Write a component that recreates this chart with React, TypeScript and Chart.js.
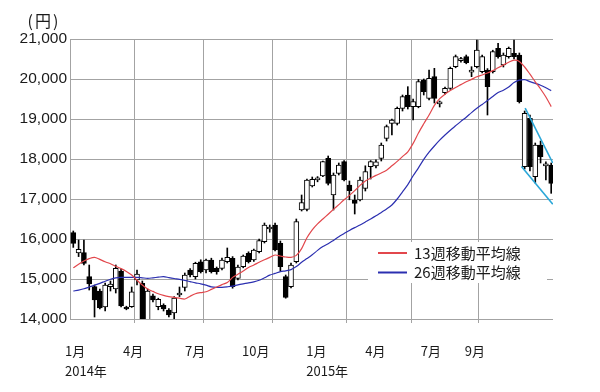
import React, { useEffect, useRef } from "react";
import { Chart, registerables } from "chart.js";

Chart.register(...registerables);

// Weekly candles (index 0 = first week of Jan 2014)
const OPEN = [16158, 15650, 15658, 15058, 14808, 14700, 14300, 14810, 14750, 15200, 14300, 14310, 14980, 14890, 13920, 14580, 14310, 14340, 14220, 14150, 14600, 14790, 15220, 15058, 15430, 15225, 15475, 15267, 15267, 15433, 15517, 15017, 15308, 15642, 15475, 15683, 15933, 16250, 16350, 15892, 15058, 14808, 15433, 16725, 16742, 17325, 17480, 17580, 18017, 17100, 17642, 17933, 17350, 16975, 16975, 17267, 17808, 17830, 18017, 18517, 18892, 18892, 19267, 19600, 19308, 19308, 19975, 19517, 20058, 19380, 19658, 19767, 20308, 20460, 20558, 20170, 20308, 20183, 20225, 20183, 20767, 20350, 20558, 20642, 20600, 17808, 19017, 17558, 18350, 17830, 17850];
const HIGH = [16200, 15975, 15975, 15350, 14850, 14750, 14900, 14950, 15350, 15250, 14320, 14800, 15225, 14950, 14750, 14620, 14520, 14380, 14260, 14560, 14800, 15150, 15260, 15420, 15480, 15500, 15520, 15300, 15520, 15775, 15560, 15350, 15600, 15680, 15750, 16000, 16400, 16350, 16400, 15950, 15100, 15400, 16500, 17100, 17500, 17550, 17560, 17950, 18075, 17650, 17900, 17960, 17450, 17100, 17550, 17830, 17960, 17980, 18400, 18850, 19000, 19300, 19600, 19808, 19500, 19990, 20000, 20225, 20267, 19450, 19800, 20300, 20600, 20540, 20600, 20308, 20975, 20600, 20260, 20720, 20892, 20650, 20800, 20975, 20650, 19200, 19100, 18400, 18450, 17930, 17900];
const LOW = [15790, 15560, 15350, 14725, 14050, 14250, 14200, 14700, 14650, 14300, 14230, 14290, 14850, 13880, 13880, 14430, 14230, 14200, 14050, 13980, 14560, 14700, 15050, 15000, 15150, 15150, 15150, 15120, 15230, 15400, 14770, 14980, 15280, 15400, 15440, 15650, 15900, 16170, 15700, 15200, 14520, 14780, 15400, 16700, 16700, 17300, 17430, 17560, 17350, 16725, 17600, 17450, 16980, 16625, 16950, 17200, 17500, 17780, 17950, 18450, 18600, 18850, 19200, 19250, 18975, 19280, 19600, 19480, 19400, 19300, 19620, 19740, 20280, 20420, 20380, 20058, 20280, 20150, 19100, 20150, 20520, 20300, 20520, 20500, 19400, 17750, 17700, 17400, 17900, 17475, 17142];
const CLOSE = [15892, 15740, 15392, 14875, 14475, 14280, 14850, 14870, 15267, 14330, 14250, 14680, 15120, 13950, 14700, 14480, 14490, 14250, 14100, 14520, 14640, 15100, 15100, 15392, 15183, 15475, 15183, 15183, 15475, 15542, 14808, 15300, 15575, 15433, 15725, 15958, 16350, 16280, 15725, 15308, 14542, 15350, 16433, 16908, 17475, 17492, 17500, 17933, 17392, 17600, 17850, 17475, 17208, 16892, 17475, 17683, 17933, 17930, 18350, 18808, 18975, 19267, 19558, 19308, 19433, 19933, 19683, 20017, 19517, 19400, 19767, 20267, 20558, 20490, 20408, 20200, 20725, 20558, 19808, 20683, 20558, 20600, 20767, 20558, 19433, 19142, 17808, 18350, 18058, 17870, 17392];

// Moving averages, one value per week
const MA13 = [15280, 15370, 15450, 15510, 15540, 15490, 15430, 15380, 15320, 15260, 15190, 15100, 14970, 14850, 14750, 14690, 14630, 14590, 14560, 14540, 14520, 14500, 14570, 14630, 14660, 14680, 14740, 14800, 14860, 14910, 15040, 15120, 15200, 15290, 15350, 15420, 15480, 15540, 15600, 15575, 15550, 15540, 15590, 15760, 16030, 16230, 16380, 16500, 16620, 16740, 16860, 16980, 17090, 17210, 17340, 17450, 17520, 17590, 17650, 17720, 17830, 17940, 18060, 18180, 18390, 18650, 18880, 19100, 19340, 19510, 19620, 19710, 19790, 19860, 19930, 19990, 20055, 20100, 20150, 20210, 20280, 20350, 20420, 20470, 20440, 20300, 20120, 19930, 19750, 19550, 19310];
const MA26 = [14700, 14720, 14755, 14800, 14845, 14890, 14945, 14995, 15030, 15042, 15042, 15042, 15042, 15030, 15017, 15030, 15045, 15058, 15035, 15012, 14990, 14965, 14935, 14905, 14880, 14845, 14805, 14792, 14792, 14805, 14823, 14855, 14880, 14902, 14930, 14970, 15030, 15098, 15140, 15185, 15205, 15235, 15310, 15420, 15510, 15605, 15715, 15810, 15880, 15965, 16055, 16135, 16215, 16285, 16350, 16425, 16500, 16580, 16665, 16750, 16850, 17000, 17180, 17360, 17580, 17780, 17990, 18170, 18325, 18470, 18600, 18720, 18830, 18940, 19045, 19160, 19267, 19365, 19460, 19565, 19660, 19720, 19800, 19910, 19970, 19985, 19935, 19890, 19845, 19780, 19710];

// Hand-drawn downward channel (week index, price)
const TREND_UPPER_X = [85.1, 90.3];
const TREND_UPPER_Y = [19270, 17900];
const TREND_LOWER_X = [84.4, 90.3];
const TREND_LOWER_Y = [17810, 16870];

// Axes
const X_MIN = -0.62;
const X_MAX = 90.34;
const X_GRID_WEEKS = [11.6, 24.6, 37.6, 51.5, 63.6, 76.4];
const X_LABEL_WEEKS = [-1.56, 9.36, 21.04, 31.77, 43.87, 54.98, 65.44, 73.73];
const X_LABELS = [["1月", "2014年"], ["4月"], ["7月"], ["10月"], ["1月", "2015年"], ["4月"], ["7月"], ["9月"]];
const Y_MIN = 14000;
const Y_MAX = 21000;
const Y_STEP = 1000;
const Y_UNIT = "(円)";
const LEGEND_LABELS = ["13週移動平均線", "26週移動平均線"];

const RED = "#e2474c";
const BLUE = "#2b2fb0";
const CYAN = "#2aa7d8";
const GRID = "#a3a3a3";
const INK = "#1a1a1a";

const overlayPlugin = {
  id: "overlay",
  afterDraw(chart: any) {
    const ctx = chart.ctx as CanvasRenderingContext2D;
    ctx.save();
    // unit label
    ctx.fillStyle = INK;
    ctx.font = "16px 'Noto Sans CJK JP'";
    ctx.textAlign = "center";
    ctx.textBaseline = "middle";
    (ctx as any).letterSpacing = "2px";
    ctx.fillText(Y_UNIT, 44, 21);
    (ctx as any).letterSpacing = "0px";
    // legend box
    ctx.fillStyle = "#ffffff";
    ctx.fillRect(368, 242, 179, 41);
    const rows = [
      { color: RED, label: LEGEND_LABELS[0], y: 253 },
      { color: BLUE, label: LEGEND_LABELS[1], y: 272.5 },
    ];
    ctx.textAlign = "left";
    ctx.font = "15px 'Noto Sans CJK JP'";
    for (const r of rows) {
      ctx.strokeStyle = r.color;
      ctx.lineWidth = 2;
      ctx.beginPath();
      ctx.moveTo(378, r.y);
      ctx.lineTo(407, r.y);
      ctx.stroke();
      ctx.fillStyle = INK;
      ctx.fillText(r.label, 414, r.y);
    }
    ctx.restore();
  },
};

export default function App() {
  const ref = useRef<HTMLCanvasElement | null>(null);
  useEffect(() => {
    if (!ref.current) return;
    const bodies = OPEN.map((o, i) => ({ x: i, y: [o, CLOSE[i]] }));
    const wicks = LOW.map((l, i) => ({ x: i, y: [l, HIGH[i]] }));
    const chart = new Chart(ref.current, {
      type: "bar",
      data: {
        datasets: [
          {
            type: "line",
            data: TREND_UPPER_X.map((x, i) => ({ x, y: TREND_UPPER_Y[i] })),
            borderColor: CYAN,
            borderWidth: 1.6,
            pointRadius: 0,
            order: -2,
          } as any,
          {
            type: "line",
            data: TREND_LOWER_X.map((x, i) => ({ x, y: TREND_LOWER_Y[i] })),
            borderColor: CYAN,
            borderWidth: 1.6,
            pointRadius: 0,
            order: -2,
          } as any,
          {
            type: "line",
            data: MA13.map((v, i) => ({ x: i, y: v })),
            borderColor: RED,
            borderWidth: 1.2,
            pointRadius: 0,
            tension: 0.3,
            order: -1,
          } as any,
          {
            type: "line",
            data: MA26.map((v, i) => ({ x: i, y: v })),
            borderColor: BLUE,
            borderWidth: 1.2,
            pointRadius: 0,
            tension: 0.3,
            order: -1,
          } as any,
          {
            type: "bar",
            data: bodies,
            backgroundColor: OPEN.map((o, i) => (CLOSE[i] >= o ? "#ffffff" : "#000000")),
            borderColor: "#000000",
            borderWidth: 1,
            borderSkipped: false,
            barThickness: 5,
            minBarLength: 2,
            grouped: false,
            order: 1,
          } as any,
          {
            type: "bar",
            data: wicks,
            backgroundColor: "#000000",
            borderWidth: 0,
            barThickness: 1,
            grouped: false,
            order: 2,
          } as any,
        ],
      },
      options: {
        responsive: false,
        animation: false,
        devicePixelRatio: 1,
        layout: { padding: { top: 39, right: 47, left: 0, bottom: 0 } },
        plugins: {
          legend: { display: false },
          tooltip: { enabled: false },
        },
        scales: {
          x: {
            type: "linear",
            position: "bottom",
            weight: 0,
            min: X_MIN,
            max: X_MAX,
            offset: false,
            grid: { color: GRID, lineWidth: 1, drawTicks: true, tickLength: 4, offset: false },
            border: { display: false },
            ticks: { display: false },
            afterBuildTicks: (s: any) => {
              s.ticks = X_GRID_WEEKS.map((v) => ({ value: v }));
            },
            afterFit: (s: any) => {
              s.height = 0;
            },
          },
          xl: {
            type: "linear",
            position: "bottom",
            weight: 1,
            min: X_MIN,
            max: X_MAX,
            offset: false,
            grid: { display: false, drawTicks: false },
            border: { display: false },
            ticks: {
              autoSkip: false,
              maxRotation: 0,
              minRotation: 0,
              align: "start",
              padding: 22,
              color: INK,
              font: { family: "'Noto Sans CJK JP'", size: 13, lineHeight: 1.55 },
              callback: (_v: any, i: number) => X_LABELS[i],
            },
            afterBuildTicks: (s: any) => {
              s.ticks = X_LABEL_WEEKS.map((v) => ({ value: v }));
            },
            afterFit: (s: any) => {
              s.height = 73;
            },
          },
          y: {
            type: "linear",
            min: Y_MIN,
            max: Y_MAX,
            grid: { color: GRID, lineWidth: 1, drawTicks: false },
            border: { display: true, color: GRID },
            ticks: {
              stepSize: Y_STEP,
              padding: 3,
              color: INK,
              font: { family: "'Liberation Sans', Arial", size: 15.5 },
              callback: (v: any) => Number(v).toLocaleString("en-US"),
            },
            afterFit: (s: any) => {
              s.width = 70;
            },
          },
        },
      } as any,
      plugins: [overlayPlugin],
    });
    return () => chart.destroy();
  }, []);

  return (
    <div style={{ position: "fixed", left: 0, top: 0, width: 600, height: 392, background: "#fff" }}>
      <canvas ref={ref} width={600} height={392} style={{ display: "block", width: 600, height: 392 }} />
    </div>
  );
}
